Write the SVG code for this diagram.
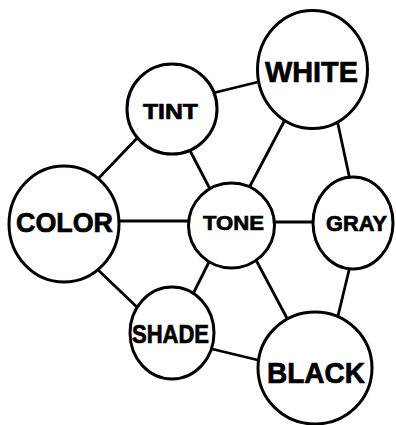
<svg xmlns="http://www.w3.org/2000/svg" width="396" height="425" viewBox="0 0 396 425">
<style>
.n ellipse{fill:#fff;stroke:#000;stroke-width:3}
.n text{font-family:"Liberation Sans",Arial,sans-serif;font-weight:bold;text-anchor:middle;fill:#000;stroke:#000;stroke-width:0.7}
#edges line{stroke:#000;stroke-width:2.8;stroke-linecap:round}
</style>
<rect width="396" height="425" fill="#fff"/>
<g id="edges">
<line x1="205" y1="95" x2="262" y2="81"/>
<line x1="288" y1="114" x2="250" y2="186"/>
<line x1="336" y1="115" x2="350" y2="180"/>
<line x1="142" y1="133" x2="95" y2="182"/>
<line x1="112" y1="221" x2="192" y2="221"/>
<line x1="186" y1="143" x2="210" y2="189"/>
<line x1="270" y1="222" x2="318" y2="222"/>
<line x1="210" y1="260" x2="192" y2="296"/>
<line x1="256" y1="260" x2="289" y2="322"/>
<line x1="351" y1="262" x2="337" y2="320"/>
<line x1="95" y1="267" x2="140" y2="310"/>
<line x1="208" y1="348" x2="266" y2="362"/>
</g>
<g id="white" class="n"><ellipse cx="312.5" cy="69.5" rx="55" ry="59"/><text x="311.5" y="82" font-size="30" textLength="93" lengthAdjust="spacingAndGlyphs">WHITE</text></g>
<g id="tint" class="n"><ellipse cx="172" cy="109" rx="45" ry="45"/><text x="170.5" y="119" font-size="22" textLength="55" lengthAdjust="spacingAndGlyphs">TINT</text></g>
<g id="color" class="n"><ellipse cx="64" cy="224" rx="55" ry="58"/><text x="64.5" y="232" font-size="27" textLength="97" lengthAdjust="spacingAndGlyphs">COLOR</text></g>
<g id="tone" class="n"><ellipse cx="231.5" cy="225.5" rx="43" ry="42.5"/><text x="233.5" y="230" font-size="21" textLength="61" lengthAdjust="spacingAndGlyphs">TONE</text></g>
<g id="gray" class="n"><ellipse cx="353" cy="223" rx="40" ry="46"/><text x="356.5" y="231" font-size="22" textLength="61" lengthAdjust="spacingAndGlyphs">GRAY</text></g>
<g id="shade" class="n"><ellipse cx="172" cy="333" rx="42" ry="46"/><text x="170.5" y="343" font-size="25" textLength="77" lengthAdjust="spacingAndGlyphs">SHADE</text></g>
<g id="black" class="n"><ellipse cx="315" cy="368" rx="57" ry="56"/><text x="316" y="383" font-size="29" textLength="98" lengthAdjust="spacingAndGlyphs">BLACK</text></g>
</svg>
